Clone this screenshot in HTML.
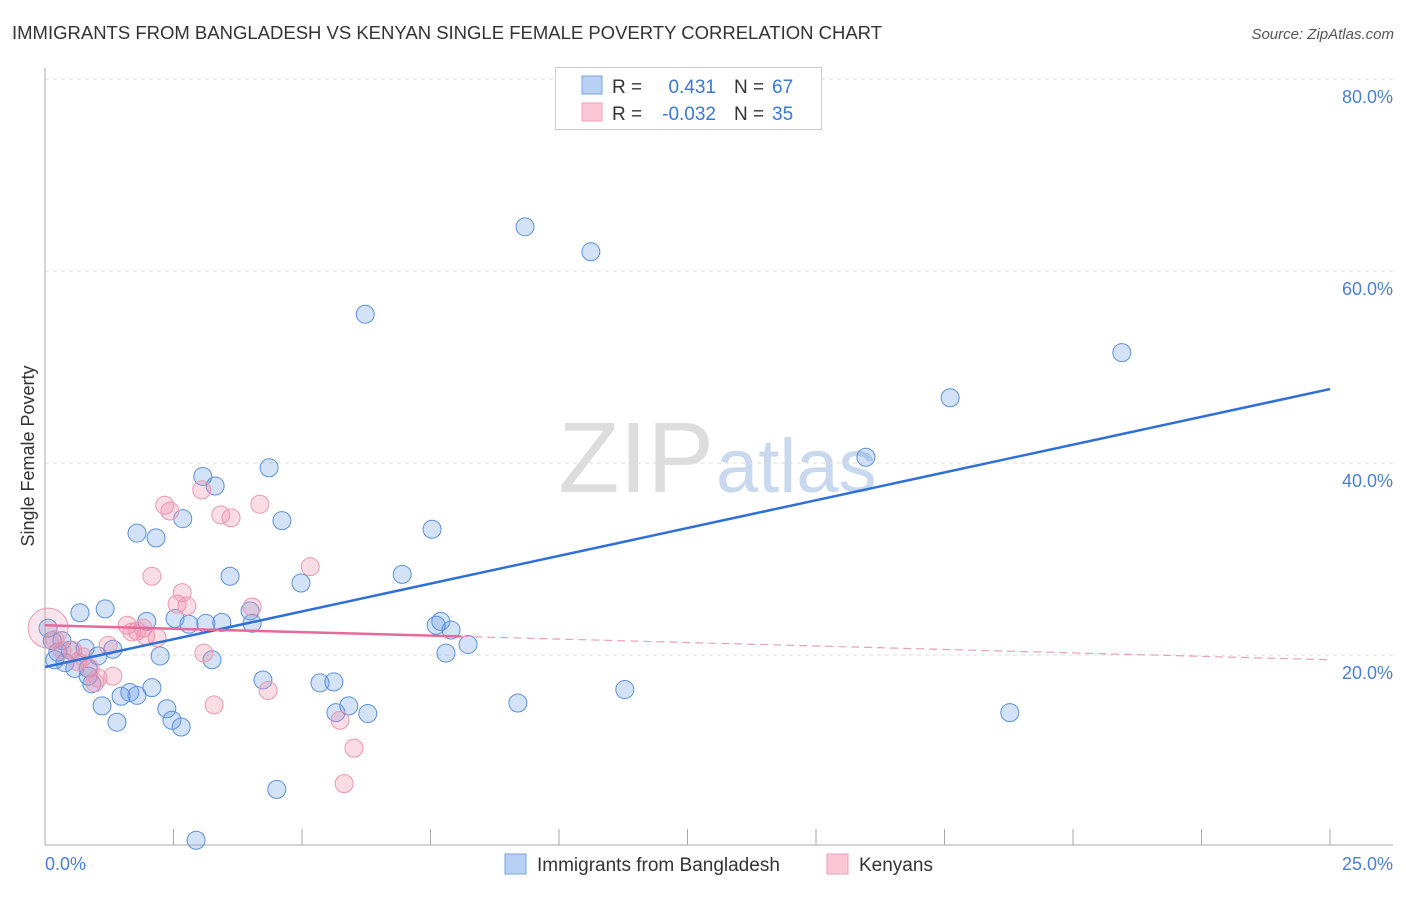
<!DOCTYPE html>
<html><head><meta charset="utf-8"><style>
body{margin:0;background:#fff;font-family:"Liberation Sans",sans-serif}
svg text{font-family:"Liberation Sans",sans-serif}
</style></head><body>
<svg id="c" width="1406" height="892" xmlns="http://www.w3.org/2000/svg">
<text x="12" y="39" font-size="18.5" fill="#333">IMMIGRANTS FROM BANGLADESH VS KENYAN SINGLE FEMALE POVERTY CORRELATION CHART</text>
<text x="1394" y="39" font-size="15" fill="#555" text-anchor="end" font-style="italic">Source: ZipAtlas.com</text>
<text x="714" y="492" font-size="100" fill="#ddd" text-anchor="end" font-family="Liberation Serif">ZIP</text>
<text x="716" y="492" font-size="76" fill="#c8d8ee">atlas</text>
<g id="grid"></g><g id="axes"></g><g id="pts"></g><g id="lines"></g>
<text transform="translate(34,456) rotate(-90)" font-size="18" fill="#333" text-anchor="middle">Single Female Poverty</text>
<text x="45" y="870" font-size="18" fill="#4a7fd4">0.0%</text>
<text x="1393" y="870" font-size="18" fill="#4a7fd4" text-anchor="end">25.0%</text>
<g>
<rect x="555.5" y="67.5" width="266" height="62" fill="#fff" stroke="#ccc"/>
<rect x="582" y="76" width="20" height="18" fill="#b8d0f4" stroke="#7aa4e0"/>
<rect x="582" y="103" width="20" height="18" fill="#fbc6d6" stroke="#eda0b8"/>
<text x="612" y="93" font-size="19" fill="#333">R =</text>
<text x="716" y="93" font-size="19" fill="#3a78d8" text-anchor="end">0.431</text>
<text x="734" y="93" font-size="19" fill="#333">N =</text>
<text x="772" y="93" font-size="19" fill="#3a78d8">67</text>
<text x="612" y="120" font-size="19" fill="#333">R =</text>
<text x="716" y="120" font-size="19" fill="#3a78d8" text-anchor="end">-0.032</text>
<text x="734" y="120" font-size="19" fill="#333">N =</text>
<text x="772" y="120" font-size="19" fill="#3a78d8">35</text>
</g>
<g>
<rect x="505" y="854" width="21" height="20" fill="#b8d0f4" stroke="#7aa4e0"/>
<text x="537" y="871" font-size="19" fill="#333">Immigrants from Bangladesh</text>
<rect x="827" y="854" width="21" height="20" fill="#fbc6d6" stroke="#eda0b8"/>
<text x="859" y="871" font-size="19" fill="#333">Kenyans</text>
</g>
</svg>
<script>
const yTicks=[20,40,60,80];
const yTickLabels=["20.0%","40.0%","60.0%","80.0%"];
const blueX=[9.34,10.62,6.23,20.95,17.61,15.97,3.07,3.31,4.36,1.79,2.16,2.68,4.61,7.53,3.60,4.98,6.95,0.68,1.17,1.98,2.53,2.80,3.13,3.44,3.99,4.03,7.61,7.70,7.90,8.23,7.80,0.14,0.25,0.49,0.78,1.03,1.32,2.24,3.25,0.19,0.39,0.58,0.84,0.91,4.24,5.35,5.62,2.08,1.65,1.48,1.79,1.11,1.40,2.37,2.47,2.65,5.66,5.91,6.28,9.20,11.28,18.77,4.51,2.94,0.06,0.33,0.84];
const blueY=[64.6,62.0,55.5,51.5,46.8,40.6,38.6,37.6,39.5,32.7,32.2,34.2,34.0,33.1,28.2,27.5,28.4,24.4,24.8,23.5,23.8,23.2,23.3,23.4,24.6,23.3,23.1,23.5,22.6,21.1,20.2,21.5,20.3,20.5,20.7,19.9,20.6,19.9,19.5,19.5,19.2,18.6,18.6,17.0,17.4,17.1,17.2,16.6,16.1,15.7,15.8,14.7,13.0,14.4,13.2,12.5,14.0,14.7,13.9,15.0,16.4,14.0,6.0,0.7,22.8,21.5,17.8];
const pinkX=[0.06,2.33,2.43,3.05,3.42,3.62,4.18,5.16,2.08,2.67,2.76,2.57,4.03,1.60,1.79,1.91,2.18,1.23,0.54,0.64,0.74,0.88,1.32,1.03,0.97,3.09,3.29,4.34,5.74,6.01,5.82,0.19,0.33,1.69,1.96];
const pinkY=[22.8,35.6,35.0,37.2,34.6,34.3,35.7,29.2,28.2,26.5,25.1,25.3,25.0,23.1,22.5,22.8,21.8,21.0,20.5,19.3,19.8,18.6,17.8,17.6,17.1,20.2,14.8,16.3,13.2,10.3,6.6,21.6,20.5,22.4,22.0];
const blueTrend=[18.75,47.7];
const pinkTrend=[23.1,19.5];
const pinkSolidEnd=8.1;
const NS="http://www.w3.org/2000/svg";
const X0=45,X1=1330,XMAX=25,Y0=847,YMAX=80,Y80=79;
const sx=v=>X0+(X1-X0)*v/XMAX;
const sy=v=>Y0-(Y0-Y80)*v/YMAX;
function mk(p,t,a){const e=document.createElementNS(NS,t);for(const k in a)e.setAttribute(k,a[k]);document.getElementById(p).appendChild(e);return e;}
yTicks.forEach((t,i)=>{
 const l=mk('grid','line',{x1:45,x2:1393,y1:sy(t),y2:sy(t),stroke:'#ddd','stroke-dasharray':'4,4'});
 
 
 const tx=mk('grid','text',{x:1393,y:sy(t)+24,'font-size':18,fill:'#4a7fd4','text-anchor':'end'});
 tx.textContent=yTickLabels[i];
 
 
});
const ya=mk('axes','line',{x1:45,x2:45,y1:68,y2:845,stroke:'#aaa'});


const xa=mk('axes','line',{x1:45,x2:1393,y1:845,y2:845,stroke:'#aaa'});


for(let i=1;i<=10;i++){
 const t=mk('axes','line',{x1:sx(i*2.5),x2:sx(i*2.5),y1:829,y2:845,stroke:'#aaa'});
 
 
}
blueX.forEach((v,i)=>{
 const c=mk('pts','circle',{cx:sx(v),cy:sy(blueY[i]),r:9,fill:'rgba(110,160,230,0.3)',stroke:'#5a90dc','stroke-width':1});
 
 
});
pinkX.forEach((v,i)=>{
 const c=mk('pts','circle',{cx:sx(v),cy:sy(pinkY[i]),r:i===0?20:9,fill:i===0?'rgba(220,150,180,0.25)':'rgba(240,140,170,0.3)',stroke:'#ec98b2','stroke-width':1});
 
 
});
const bl=mk('lines','line',{x1:sx(0),y1:sy(blueTrend[0]),x2:sx(25),y2:sy(blueTrend[1]),stroke:'#2f6fd8','stroke-width':2.5});


const pv=x=>pinkTrend[0]+(pinkTrend[1]-pinkTrend[0])*x/25;
const ps=mk('lines','line',{x1:sx(0),y1:sy(pv(0)),x2:sx(pinkSolidEnd),y2:sy(pv(pinkSolidEnd)),stroke:'#e8689a','stroke-width':2.5});


const pd=mk('lines','line',{x1:sx(pinkSolidEnd),y1:sy(pv(pinkSolidEnd)),x2:sx(25),y2:sy(pv(25)),stroke:'#e8a0b8','stroke-width':1.2,'stroke-dasharray':'8,5'});


</script>
</body></html>
